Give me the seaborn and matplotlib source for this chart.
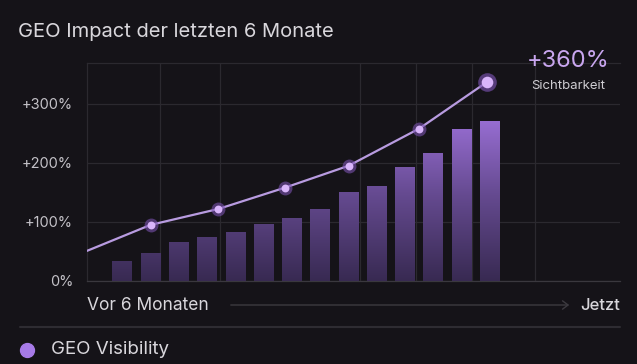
import numpy as np
import matplotlib
matplotlib.use("Agg")
import matplotlib.pyplot as plt
import seaborn as sns
from matplotlib.colors import LinearSegmentedColormap

# values (growth in percent)
bar_steps = list(range(14))
bar_values = [34, 47, 66, 75, 83, 97, 107, 122, 151, 161, 193, 217, 258, 271]
line_steps = [-1.25, 1.0, 3.4, 5.75, 8.0, 10.5, 12.9]
line_values = [51, 95, 122, 158, 195, 258, 337]
y_ticks = [0, 100, 200, 300]
y_labels = ["0%", "+100%", "+200%", "+300%"]
title = "GEO Impact der letzten 6 Monate"
headline = "+360%"
headline_sub = "Sichtbarkeit"
start_label = "Vor 6 Monaten"
end_label = "Jetzt"
legend_label = "GEO Visibility"

BG = "#151318"
GRID = "#2b292f"
TEXT = "#d9d7dc"
TICK = "#c3c1c7"
LINE = "#b89be0"
DOT = "#d9b5fb"

sns.set_theme(style="dark")
plt.rcParams["font.family"] = ["Inter", "DejaVu Sans"]

fig = plt.figure(figsize=(6.37, 3.64), dpi=100, facecolor=BG)
ax = fig.add_axes([87 / 637, 1 - 281 / 364, 533 / 637, 218 / 364])
ax.set_facecolor(BG)

sns.barplot(x=bar_steps, y=bar_values, native_scale=True, width=0.7,
            color="#6a4c96", linewidth=0, ax=ax, zorder=2)

xlim = (-1.25, 17.6)
ylim = (0, 369)

# vertical purple gradient clipped to each bar
cmap = LinearSegmentedColormap.from_list("g", ["#382a52", "#654a90", "#9f73dc"])
grad = np.linspace(0, 1, 256).reshape(-1, 1)
for p in ax.patches:
    p.set_edgecolor("none")
    im = ax.imshow(grad, cmap=cmap, aspect="auto", origin="lower",
                   extent=[xlim[0], xlim[1], 0, 290], zorder=3)
    im.set_clip_path(p)
ax.set_xlim(*xlim)
ax.set_ylim(*ylim)

sns.lineplot(x=line_steps, y=line_values, color=LINE, lw=1.6, ax=ax,
             zorder=4, sort=False)
ax.scatter(line_steps[1:-1], line_values[1:-1], s=100, color="#7a52b0",
           alpha=0.6, lw=0, zorder=5)
ax.scatter(line_steps[1:-1], line_values[1:-1], s=32, color=DOT, lw=0, zorder=6)
ax.scatter(line_steps[-1:], line_values[-1:], s=180, color="#7a52b0",
           alpha=0.65, lw=0, zorder=5)
ax.scatter(line_steps[-1:], line_values[-1:], s=70, color=DOT, lw=0, zorder=6)

# grid
ax.set_yticks(y_ticks)
ax.set_yticklabels(y_labels, color=TICK, fontsize=10.5)
ax.set_xticks([1.33, 3.45, 8.4, 10.4, 12.35, 14.6])
ax.set_xticklabels([])
ax.tick_params(length=0, pad=10)
ax.grid(True, color=GRID, lw=0.9)
ax.set_axisbelow(True)
for side in ["left", "bottom", "top"]:
    ax.spines[side].set_visible(True)
    ax.spines[side].set_color(GRID)
    ax.spines[side].set_linewidth(0.9)
ax.spines["right"].set_visible(False)
ax.spines["bottom"].set_color("#3a383e")

# texts
fig.text(18 / 637, 1 - 32 / 364, title, color=TEXT, fontsize=14.5, va="center")
fig.text(568 / 637, 1 - 61 / 364, headline, color="#c9a6ef", fontsize=17,
         ha="center", va="center")
fig.text(568 / 637, 1 - 86 / 364, headline_sub, color="#cfcdd2", fontsize=9.5,
         ha="center", va="center")

fig.text(87 / 637, 1 - 305 / 364, start_label, color=TEXT, fontsize=12.5,
         va="center")
fig.text(620 / 637, 1 - 305 / 364, end_label, color=TEXT, fontsize=12,
         va="center", ha="right", fontweight="medium")
fig.add_artist(matplotlib.patches.FancyArrowPatch(
    (228 / 637, 1 - 305 / 364), (572 / 637, 1 - 305 / 364),
    transform=fig.transFigure, arrowstyle="->,head_length=4,head_width=3",
    color="#3c3a40", lw=1.0))

fig.add_artist(matplotlib.lines.Line2D([20 / 637, 620 / 637], [1 - 327 / 364] * 2,
               transform=fig.transFigure, color="#2e2c32", lw=1.5))

fig.add_artist(matplotlib.lines.Line2D([27 / 637], [1 - 350 / 364], marker="o",
               markersize=10, color="#a77be8", lw=0, transform=fig.transFigure))
fig.text(51 / 637, 1 - 350 / 364, legend_label, color=TEXT, fontsize=13.5,
         va="center")

fig.savefig("out.png", dpi=100, facecolor=BG)
